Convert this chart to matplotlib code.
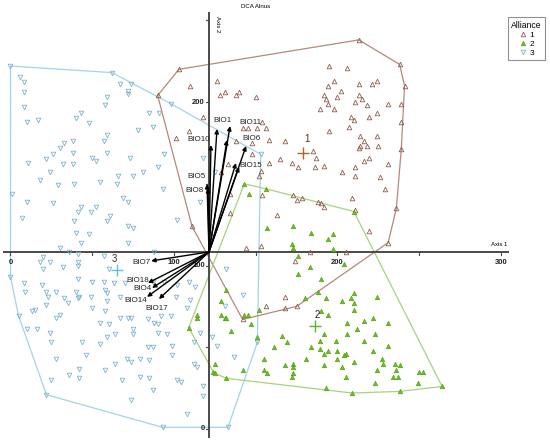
import numpy as np
import matplotlib.pyplot as plt
from matplotlib.lines import Line2D

plt.rcParams['font.family'] = ['Liberation Sans', 'DejaVu Sans']

# DCA sample scores (axis 1, axis 2) per alliance
g1_x = [103, 213, 238, 241, 239, 239, 239, 236, 231, 175, 168, 142, 111, 90, 195, 206, 198, 194, 202, 213,
        221, 224, 192, 193, 200, 213, 215, 211, 218, 231, 194, 189, 198, 208, 210, 219, 224, 207, 195, 214,
        224, 216, 213, 214, 218, 225, 219, 216, 231, 211, 203, 211, 226, 229, 209, 168, 165, 185, 187, 172,
        176, 186, 192, 173, 175, 178, 188, 190, 192, 163, 126, 128, 131, 138, 140, 150, 154, 142, 145, 151,
        156, 138, 148, 158, 148, 133, 158, 153, 152, 129, 110, 118, 109, 101, 154, 211, 219, 134, 144, 153,
        183, 205, 174, 134, 168, 156]
g1_y = [220, 238, 223, 210, 199, 188, 171, 135, 114, 75, 74, 67, 124, 204, 222, 221, 213, 210, 207, 211,
        211, 213, 204, 202, 203, 204, 202, 200, 198, 199, 199, 196, 196, 191, 189, 191, 193, 185, 182, 179,
        179, 176, 172, 173, 173, 173, 166, 164, 162, 160, 157, 155, 154, 147, 141, 176, 165, 170, 166, 163,
        160, 160, 161, 143, 140, 141, 139, 138, 136, 131, 213, 204, 206, 204, 206, 203, 188, 184, 184, 184,
        184, 176, 175, 177, 168, 162, 163, 158, 155, 157, 210, 191, 182, 178, 143, 134, 121, 132, 111, 112,
        108, 108, 103, 144, 81, 75]

g2_x = [143, 156, 146, 157, 173, 184, 197, 194, 172, 173, 176, 183, 204, 176, 190, 210, 197, 132, 129, 152,
        129, 131, 132, 143, 145, 147, 135, 151, 166, 169, 161, 155, 168, 173, 173, 173, 172, 155, 157, 142,
        132, 125, 124, 125, 114, 114, 109, 180, 188, 193, 190, 194, 203, 208, 210, 210, 210, 224, 192, 189,
        206, 212, 206, 216, 222, 231, 223, 216, 199, 231, 184, 189, 194, 192, 200, 205, 204, 181, 200, 222,
        227, 228, 210, 192, 203, 235, 238, 224, 236, 234, 237, 205, 250, 252, 223, 249, 193, 209, 238, 264]
g2_y = [150, 147, 144, 123, 124, 120, 119, 116, 113, 111, 106, 99, 101, 95, 92, 133, 110, 85, 78, 73,
        70, 68, 68, 70, 70, 64, 60, 56, 57, 53, 50, 43, 39, 40, 38, 34, 32, 36, 34, 36,
        31, 40, 35, 34, 68, 70, 62, 80, 84, 80, 72, 70, 78, 80, 83, 77, 73, 81, 58, 54,
        65, 61, 58, 66, 68, 65, 58, 54, 54, 51, 50, 49, 48, 46, 48, 46, 45, 43, 43, 48,
        43, 40, 41, 39, 38, 40, 39, 36, 36, 32, 32, 32, 35, 35, 28, 28, 25, 22, 23, 26]

g3_x = [0, 6, 8, 8, 8, 10, 17, 43, 40, 48, 59, 58, 59, 57, 59, 38, 33, 30, 38, 26,
        22, 11, 32, 38, 50, 52, 24, 18, 29, 39, 55, 10, 26, 43, 41, 49, 52, 7, 39, 59,
        40, 48, 43, 30, 1, 62, 67, 74, 72, 72, 98, 85, 91, 87, 78, 94, 73, 90, 81, 66,
        65, 93, 69, 72, 61, 72, 75, 102, 116, 118, 72, 125, 153, 132, 75,
        36, 41, 57, 20, 18, 24, 20, 32, 41, 41, 60, 0, 41, 50, 8, 9, 19, 22, 23, 28,
        33, 35, 40, 41, 42, 49, 58, 59, 50, 22, 13, 15, 30, 28, 58, 5, 55, 60, 59, 10,
        16, 24, 25, 44, 55, 46, 28, 42, 58, 36, 42, 25, 22,
        88, 57, 63, 70, 87, 94, 102, 109, 113, 59, 67, 101, 110, 108, 67, 72, 74, 84, 88, 90,
        92, 98, 64, 75, 75, 90, 96, 84, 87, 99, 112, 71, 74, 79, 85, 64, 99, 112, 114, 79,
        85, 68, 102, 104, 118, 87, 74, 108, 93, 133, 151,
        142, 131, 116, 123, 126, 137, 118]
g3_y = [222, 215, 212, 206, 197, 188, 189, 193, 190, 187, 203, 198, 180, 176, 169, 176, 175, 172, 169, 168,
        165, 163, 162, 162, 166, 164, 157, 152, 149, 150, 151, 139, 138, 136, 133, 133, 136, 129, 127, 127,
        120, 119, 114, 111, 144, 218, 211, 211, 207, 205, 199, 193, 193, 185, 183, 168, 166, 160, 157, 155,
        150, 147, 141, 139, 130, 124, 123, 128, 139, 166, 114, 157, 168, 98, 155,
        108, 107, 106, 105, 102, 102, 98, 99, 100, 102, 98, 93, 92, 90, 89, 84, 88, 84, 81, 84,
        80, 77, 84, 80, 81, 81, 85, 78, 74, 76, 72, 73, 70, 68, 72, 69, 65, 64, 56, 61,
        61, 59, 53, 53, 52, 45, 43, 37, 36, 33, 31, 30, 21,
        108, 90, 89, 89, 90, 90, 88, 90, 87, 83, 81, 81, 79, 74, 68, 68, 68, 67, 65, 64,
        69, 69, 58, 61, 58, 59, 58, 50, 50, 51, 53, 43, 41, 43, 42, 40, 45, 40, 38, 32,
        31, 30, 30, 29, 26, 24, 18, 9, 1, 1, 53,
        82, 75, 59, 56, 51, 44, 20]

# group centroids
cent_x = [179, 186, 65]
cent_y = [169, 63, 97]
cent_names = ['1', '2', '3']

# environmental vectors (BIO variables), relative to the axis crossing
axis_x0, axis_y0 = 121.4, 108.3
bio_labels = ['BIO1', 'BIO11', 'BIO10', 'BIO6', 'BIO15', 'BIO5', 'BIO8',
              'BIO7', 'BIO18', 'BIO4', 'BIO14', 'BIO17', '', '']
bio_dx = [4.9, 12.9, 1.2, 22.7, 18.4, -1.2, -0.6, -35.4, -37.3, -34.8, -37.9, -30.6, 11.0, 16.5]
bio_dy = [75.2, 77.0, 65.4, 64.8, 52.0, 41.6, 39.1, -5.5, -19.0, -22.0, -27.5, -28.8, 68.5, 54.4]

ticks_x = [0, 50, 100, 150, 200, 250, 300]
ticks_y = [0, 50, 100, 150, 200, 250]
labels_x = {0: '0', 100: '100', 200: '200', 300: '300'}
labels_y = {0: '0', 100: '100', 200: '200'}

# styling
col1, line1 = '#8e5e4c', '#b4897a'
col2, edge2, line2 = '#6cbf1e', '#4f9a12', '#a9d27f'
col3, line3 = '#7fb2cf', '#a5d3e6'
lab_off = [(6, 8), (20, 4), (-12, 6), (5, 7), (12, 1), (-11, 7), (-14, -2),
           (-10, -2), (-10, 3), (-10, -1), (-11, -4), (-2, -9), (0, 0), (0, 0)]
cent_off = [(4, 14), (3, 11), (-2, 11)]
cent_col = ['#b5651d', '#5cb82a', '#5fc2e0']
cent_lab_col = ['#5a2a10', '#222222', '#333333']


def convex_hull(x, y):
    pts = sorted(set(zip(x, y)))

    def cross(o, a, b):
        return (a[0] - o[0]) * (b[1] - o[1]) - (a[1] - o[1]) * (b[0] - o[0])

    lower, upper = [], []
    for p in pts:
        while len(lower) >= 2 and cross(lower[-2], lower[-1], p) <= 0:
            lower.pop()
        lower.append(p)
    for p in reversed(pts):
        while len(upper) >= 2 and cross(upper[-2], upper[-1], p) <= 0:
            upper.pop()
        upper.append(p)
    hull = lower[:-1] + upper[:-1]
    hull.append(hull[0])
    return np.array(hull)


fig = plt.figure(figsize=(5.5, 4.41), dpi=100)
ax = fig.add_axes([0, 0, 1, 1])
ax.set_xlim(-6.42, 329.97)
ax.set_ylim(-7.34, 262.4)
ax.axis('off')

# hulls
for gx, gy, lc in [(g3_x, g3_y, line3), (g1_x, g1_y, line1), (g2_x, g2_y, line2)]:
    h = convex_hull(gx, gy)
    ax.plot(h[:, 0], h[:, 1], color=lc, lw=0.9, zorder=2)

# axes through the centre
ax.plot([-4, 304.3], [axis_y0, axis_y0], color='#4a4a4a', lw=1.4, zorder=3)
ax.plot([axis_x0, axis_x0], [-4.9, 254.4], color='#4a4a4a', lw=1.4, zorder=3)
for t in ticks_x:
    ax.plot([t, t], [axis_y0, axis_y0 - 2.0], color='#4a4a4a', lw=0.8, zorder=3)
    if t in labels_x:
        ax.annotate(labels_x[t], (t, axis_y0), xytext=(0, -11), textcoords='offset pixels',
                    ha='center', va='center', fontsize=5.5, fontweight='bold', color='#222222')
for t in ticks_y:
    ax.plot([axis_x0 - 2.0, axis_x0], [t, t], color='#4a4a4a', lw=0.8, zorder=3)
    if t in labels_y:
        ax.annotate(labels_y[t], (axis_x0, t), xytext=(-4, 0), textcoords='offset pixels',
                    ha='right', va='center', fontsize=5.5, fontweight='bold', color='#222222')

# samples
ms = 3.3
ax.plot(g3_x, g3_y, 'v', ms=ms, mfc='none', mec=col3, mew=0.6, ls='none', zorder=4)
ax.plot(g1_x, g1_y, '^', ms=ms, mfc='none', mec=col1, mew=0.6, ls='none', zorder=4)
ax.plot(g2_x, g2_y, '^', ms=ms, mfc=col2, mec=edge2, mew=0.4, ls='none', zorder=4)

# centroids
for i in range(3):
    ax.plot(cent_x[i], cent_y[i], '+', ms=8, mew=1.0, color=cent_col[i], zorder=5)
    ax.annotate(cent_names[i], (cent_x[i], cent_y[i]), xytext=cent_off[i], textcoords='offset pixels',
                ha='center', va='center', fontsize=7, color=cent_lab_col[i], zorder=6)

# BIO vectors
for lab, dx, dy, off in zip(bio_labels, bio_dx, bio_dy, lab_off):
    tip = (axis_x0 + dx, axis_y0 + dy)
    ax.annotate('', xy=tip, xytext=(axis_x0, axis_y0),
                arrowprops=dict(arrowstyle='-|>', color='black', lw=1.0,
                                mutation_scale=6, shrinkA=0, shrinkB=0), zorder=6)
    if lab:
        ax.annotate(lab, tip, xytext=off, textcoords='offset pixels', ha='center', va='center',
                    fontsize=5.8, color='#222222', zorder=7)

fig.text(256 / 550, 1 - 7 / 441, 'DCA Alnus', ha='center', va='center', fontsize=4.4)
fig.text(507 / 550, 1 - 244 / 441, 'Axis 1', ha='right', va='center', fontsize=4.3)
fig.text(218 / 550, 1 - 24 / 441, 'Axis 2', ha='center', va='center', fontsize=4.3, rotation=270)

handles = [
    Line2D([], [], marker='^', ls='none', ms=3.3, mfc='none', mec=col1, mew=0.6),
    Line2D([], [], marker='^', ls='none', ms=3.3, mfc=col2, mec=edge2, mew=0.4),
    Line2D([], [], marker='v', ls='none', ms=3.3, mfc='none', mec=col3, mew=0.6),
]
leg = fig.legend(handles, ['1', '2', '3'], title='Alliance', loc='upper right',
                 bbox_to_anchor=(549 / 550, 1 - 13 / 441), fontsize=6, title_fontsize=6.2,
                 fancybox=False, frameon=True, handlelength=1.0, handletextpad=0.3,
                 labelspacing=0.15, borderpad=0.4)
leg.get_frame().set_edgecolor('#777777')
leg.get_frame().set_linewidth(0.8)

fig.savefig('out.png', dpi=100)
